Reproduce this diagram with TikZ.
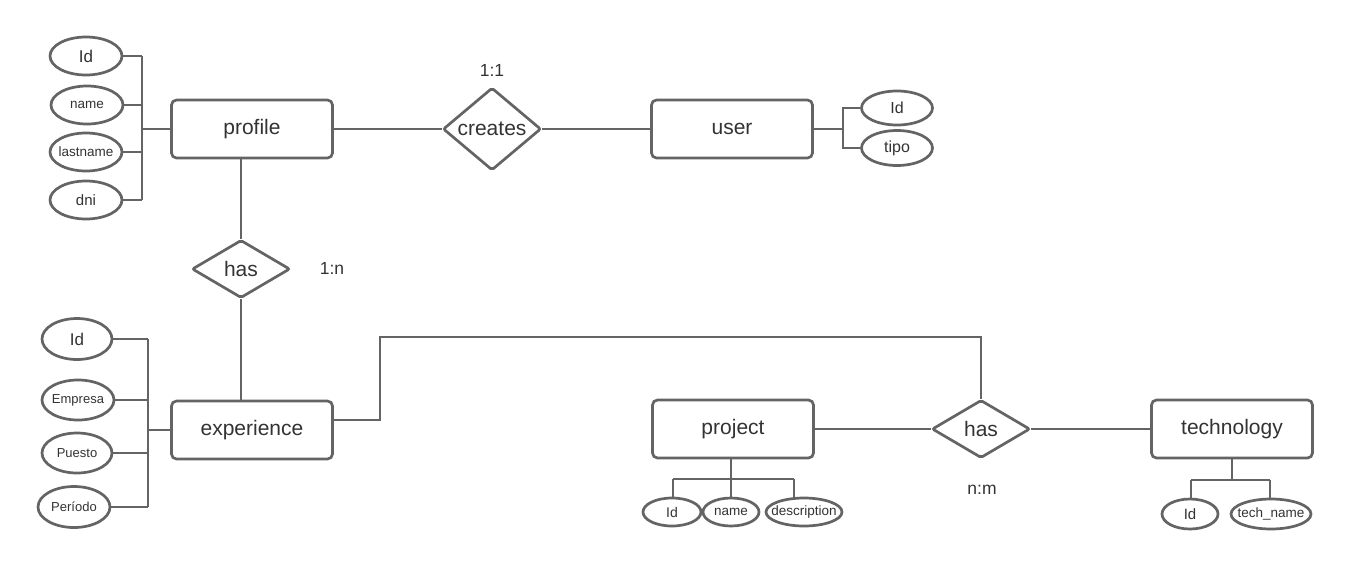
\documentclass[tikz,border=0pt]{standalone}
\usepackage{fontspec}
\setmainfont{Liberation Sans}
\usetikzlibrary{shapes.geometric}
\definecolor{ln}{HTML}{646464}
\definecolor{tx}{HTML}{333333}
\newcommand\fsz[1]{\fontsize{#1}{#1}\selectfont}
% attribute labels: keep the ellipse size independent of the text width
\newcommand\ctr[1]{\makebox[0pt]{#1}}

\begin{document}
\begin{tikzpicture}[x=1pt,y=-1pt,
  entity/.style={draw=ln, line width=2.7pt, rounded corners=5pt, minimum width=161pt,
    minimum height=58pt, inner sep=0pt, text=tx, font=\fsz{21}},
  rel/.style={draw=ln, line width=2.7pt, diamond, rounded corners=2pt, minimum width=98pt,
    minimum height=58pt, inner sep=0pt, text=tx, font=\fsz{21}},
  attr/.style={draw=ln, line width=2.7pt, ellipse, inner sep=0pt, minimum width=72pt,
    minimum height=38pt, text=tx},
  conn/.style={draw=ln, line width=2.7pt},
  card/.style={text=tx, font=\fsz{17.5}}]

\fill[white] (0,0) rectangle (1352,571);
\useasboundingbox (0,0) rectangle (1352,571);

% entities
\node[entity] (profile) at (252,129) {profile};
\node[entity] (user) at (732,129) {user};
\node[entity] (experience) at (252,430) {experience};
\node[entity] (project) at (733,429) {project};
\node[entity] (technology) at (1232,429) {technology};

% relationships
\node[rel] (creates) at (492,129) {creates};
\node[rel] (hasa) at (241,269) {has};
\node[rel] (hasb) at (981,429) {has};

% cardinalities
\node[card] (c11) at (492,70) {1:1};
\node[card] (c1n) at (332,268) {1:n};
\node[card] (cnm) at (982,490) {n:m};

% profile attributes
\node[attr, font=\fsz{17}] (pid) at (86,56) {\ctr{Id}};
\node[attr, font=\fsz{13.5}] (pname) at (87,105) {\ctr{name}};
\node[attr, font=\fsz{13.5}] (plast) at (86,152) {\ctr{lastname}};
\node[attr, font=\fsz{15}] (pdni) at (86,200) {\ctr{dni}};
\coordinate (pbus) at (142,129);
\draw[conn] (pid.east) -- (pid.east -| pbus);
\draw[conn] (pname.east) -- (pname.east -| pbus);
\draw[conn] (plast.east) -- (plast.east -| pbus);
\draw[conn] (pdni.east) -- (pdni.east -| pbus);
\draw[conn] (pid.east -| pbus) -- (pdni.east -| pbus);
\draw[conn] (pbus |- profile.west) -- (profile.west);

% user attributes
\node[attr, font=\fsz{16}, minimum width=71pt, minimum height=34pt] (uid) at (897,108) {\ctr{Id}};
\node[attr, font=\fsz{16}, minimum width=71pt, minimum height=35pt] (utipo) at (897,148) {\ctr{tipo}};
\coordinate (ubus) at (843,129);
\draw[conn] (user.east) -- (ubus |- user.east);
\draw[conn] (uid.west) -- (uid.west -| ubus) -- (utipo.west -| ubus) -- (utipo.west);

% experience attributes
\node[attr, font=\fsz{17}, minimum width=70pt, minimum height=41pt] (eid) at (77,339) {\ctr{Id}};
\node[attr, font=\fsz{13}, minimum height=40pt] (eemp) at (78,400) {\ctr{Empresa}};
\node[attr, font=\fsz{13}, minimum width=70pt, minimum height=40pt] (epue) at (77,453) {\ctr{Puesto}};
\node[attr, font=\fsz{13}, minimum height=41pt] (eper) at (74,507) {\ctr{Período}};
\coordinate (ebus) at (148,430);
\draw[conn] (eid.east) -- (eid.east -| ebus);
\draw[conn] (eemp.east) -- (eemp.east -| ebus);
\draw[conn] (epue.east) -- (epue.east -| ebus);
\draw[conn] (eper.east) -- (eper.east -| ebus);
\draw[conn] (eid.east -| ebus) -- (eper.east -| ebus);
\draw[conn] (ebus |- experience.west) -- (experience.west);

% project attributes
\node[attr, font=\fsz{14}, minimum width=58pt, minimum height=28pt] (jid) at (672,512) {\ctr{Id}};
\node[attr, font=\fsz{13.5}, minimum width=56pt, minimum height=28pt] (jname) at (731,512) {\ctr{name}};
\node[attr, font=\fsz{13.5}, minimum width=76pt, minimum height=28pt] (jdesc) at (804,512) {\ctr{description}};
\coordinate (jbus) at (731,479);
\coordinate (jl) at (673,479);
\coordinate (jr) at (794,479);
\draw[conn] (jbus |- project.south) -- (jbus);
\draw[conn] (jl) -- (jr);
\draw[conn] (jl) -- (jl |- jid.north);
\draw[conn] (jbus) -- (jname.north);
\draw[conn] (jr) -- ([yshift=-0.5pt]jr |- jdesc.north);

% technology attributes
\node[attr, font=\fsz{15}, minimum width=56pt, minimum height=30pt] (tid) at (1190,514) {\ctr{Id}};
\node[attr, font=\fsz{13.5}, minimum width=80pt, minimum height=30pt] (tname) at (1271,514) {\ctr{tech\_name}};
\coordinate (tbus) at (1232,480);
\coordinate (tl) at (1191,480);
\coordinate (tr) at (1270,480);
\draw[conn] (technology.south) -- (tbus);
\draw[conn] (tl) -- (tr);
\draw[conn] (tl) -- (tl |- tid.north);
\draw[conn] (tr) -- (tr |- tname.north);

% relationship links
\draw[conn] (profile.east) -- (creates.west);
\draw[conn] (creates.east) -- (user.west);
\draw[conn] (profile.south -| hasa.north) -- (hasa.north);
\draw[conn] (hasa.south) -- (hasa.south |- experience.north);
\draw[conn] (project.east) -- (hasb.west);
\draw[conn] (hasb.east) -- (technology.west);
\coordinate (jleft) at (380,337);
\coordinate (jtop) at (981,337);
\draw[conn] ([yshift=10pt]experience.east) -| (jleft) -- (jtop) -- (hasb.north);

\end{tikzpicture}
\end{document}
